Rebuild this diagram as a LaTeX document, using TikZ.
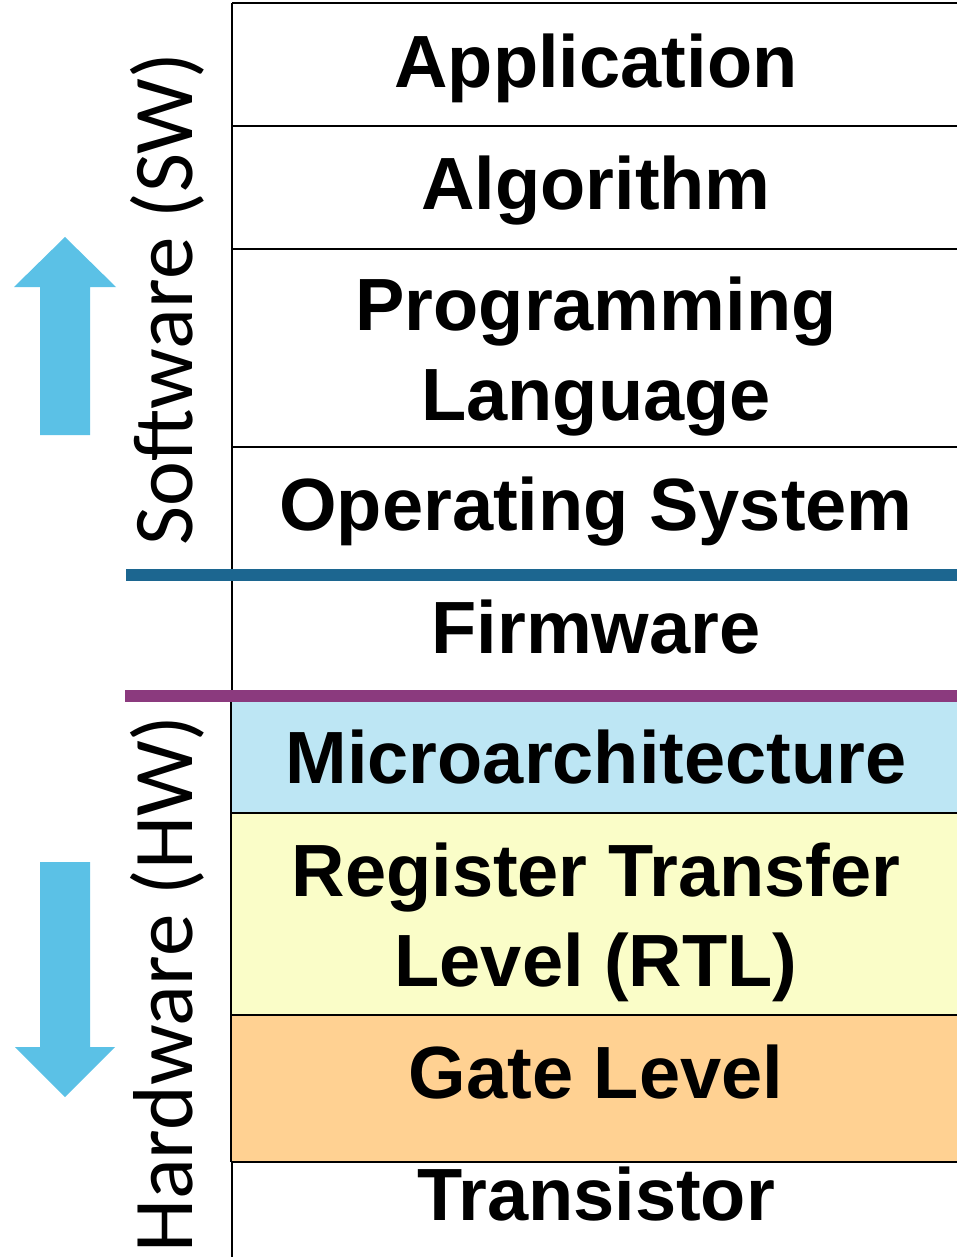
\documentclass[tikz,border=0pt]{standalone}
\usepackage{fontspec}
\setmainfont{Liberation Sans}
\newfontfamily\sidefont{Carlito}
\definecolor{arrowblue}{RGB}{91,193,230}
\definecolor{swline}{RGB}{28,102,144}
\definecolor{hwline}{RGB}{139,58,126}
\definecolor{microfill}{RGB}{189,230,244}
\definecolor{rtlfill}{RGB}{250,253,200}
\definecolor{gatefill}{RGB}{255,209,146}
\begin{document}
\begin{tikzpicture}[x=1pt,y=1pt,
  layer/.style={font=\fontsize{74}{90}\selectfont\bfseries, anchor=base, align=center, inner sep=0pt},
  side/.style={font=\sidefont\fontsize{85}{100}\selectfont, rotate=90, anchor=base, inner sep=0pt},
  rule/.style={line width=2pt},
  band/.style={line width=12pt},
  bigarrow/.style={fill=arrowblue}]
\useasboundingbox (0,0) rectangle (957,-1257);

% coloured hardware levels
\fill[microfill] (231,-700) rectangle (960,-813);
\fill[rtlfill]   (231,-813) rectangle (960,-1015);
\fill[gatefill]  (231,-1015) rectangle (960,-1162);

% frame of the stack
\draw[rule] (232,-3) -- (960,-3);
\draw[rule] (232,-3) -- (232,-700);
\draw[rule] (231,-700) -- (231,-1162);
\draw[rule] (232,-1162) -- (232,-1260);
\draw[rule] (232,-126) -- (960,-126);
\draw[rule] (232,-249) -- (960,-249);
\draw[rule] (232,-447) -- (960,-447);
\draw[rule] (231,-813) -- (960,-813);
\draw[rule] (231,-1015) -- (960,-1015);
\draw[rule] (231,-1162) -- (960,-1162);

% software / hardware boundaries
\coordinate (swa) at (126,-575);
\coordinate (swb) at (960,-575);
\coordinate (hwa) at (125,-696);
\coordinate (hwb) at (960,-696);
\draw[band, swline] (swa) -- (swb);
\draw[band, hwline] (hwa) -- (hwb);

% level names (two-line nodes sit on the baseline of their last line)
\node[layer] (app)  at (596,-88)  {Application};
\node[layer] (algo) at (596,-210) {Algorithm};
\node[layer] (lang) at (596,-420) {Programming\\Language};
\node[layer] (os)   at (596,-530) {Operating System};
\node[layer] (fw)   at (596,-653) {Firmware};
\node[layer] (uarch) at (596,-783) {Microarchitecture};
\node[layer] (rtl)  at (596,-986) {Register Transfer\\Level (RTL)};
\node[layer] (gate) at (596,-1098) {Gate Level};
\node[layer] (tran) at (596,-1220) {Transistor};

% side labels
\node[side] (sw) at (192,-299) {Software (SW)};
\node[side] (hw) at (192,-984) {Hardware (HW)};

% direction arrows
\fill[bigarrow] (40,-435) -- (40,-287) -- (14,-287) -- (65,-237) -- (116,-287) -- (90,-287) -- (90,-435) -- cycle;
\fill[bigarrow] (40,-862) -- (90,-862) -- (90,-1047) -- (115,-1047) -- (65,-1097) -- (15,-1047) -- (40,-1047) -- cycle;
\end{tikzpicture}
\end{document}
